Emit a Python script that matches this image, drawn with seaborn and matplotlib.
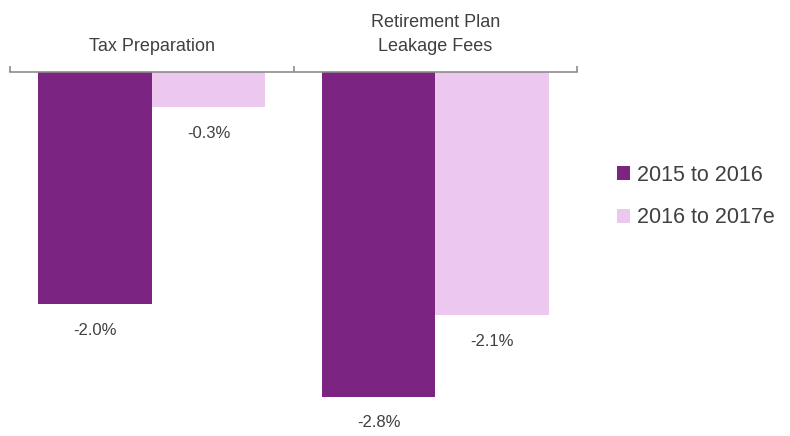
import pandas as pd
import matplotlib.pyplot as plt
import seaborn as sns
from matplotlib.patches import Patch

categories = ["Tax Preparation", "Retirement Plan\nLeakage Fees"]
periods = ["2015 to 2016", "2016 to 2017e"]
change_2015_2016 = [-2.0, -2.8]
change_2016_2017 = [-0.3, -2.1]
colors = ["#7B2481", "#ECC8EE"]

df = pd.DataFrame({
    "category": categories * 2,
    "period": [periods[0]] * 2 + [periods[1]] * 2,
    "value": change_2015_2016 + change_2016_2017,
})

sns.set_style("white")
plt.rcParams["font.family"] = ["Liberation Sans", "DejaVu Sans"]
text_color = "#404040"

fig = plt.figure(figsize=(7.9, 4.36), dpi=100)
ax = fig.add_axes([10 / 790, 0, 567 / 790, 1 - 72 / 436])

sns.barplot(data=df, x="category", y="value", hue="period", palette=colors,
            saturation=1, width=0.8, order=categories, hue_order=periods,
            legend=False, linewidth=0, ax=ax)

ax.set_xlim(-0.5, 1.5)
ax.set_ylim(-3.14, 0)

# data labels under each bar
for cont in ax.containers:
    for bar in cont:
        val = bar.get_y() if bar.get_height() >= 0 and bar.get_y() < 0 else bar.get_height()
        x = bar.get_x() + bar.get_width() / 2
        ax.annotate(f"{val:.1f}%", (x, val), xytext=(0, -19), textcoords="offset points",
                    ha="center", va="center", fontsize=12, color=text_color)

for s in ["left", "right", "bottom"]:
    ax.spines[s].set_visible(False)
ax.spines["top"].set_color("#8c8c8c")
ax.spines["top"].set_linewidth(1.2)

ax.set_yticks([])
ax.set_xlabel("")
ax.set_ylabel("")
ax.xaxis.tick_top()
ax.set_xticks([0, 1])
ax.set_xticklabels(categories, fontsize=13, color=text_color, linespacing=1.6)
ax.set_xticks([-0.5, 0.5, 1.5], minor=True)
ax.tick_params(axis="x", which="major", length=0, pad=12)
ax.tick_params(axis="x", which="minor", length=4, width=1.2, color="#8c8c8c",
               direction="out", top=True, bottom=False)

handles = [Patch(facecolor=c, edgecolor="none") for c in colors]
fig.legend(handles, periods, loc="center left", bbox_to_anchor=(0.757, 0.549),
           frameon=False, fontsize=15.5, handlelength=0.6, handleheight=0.6,
           handletextpad=0.3, labelspacing=1.0, labelcolor=text_color)

fig.savefig("out.png", dpi=100)
